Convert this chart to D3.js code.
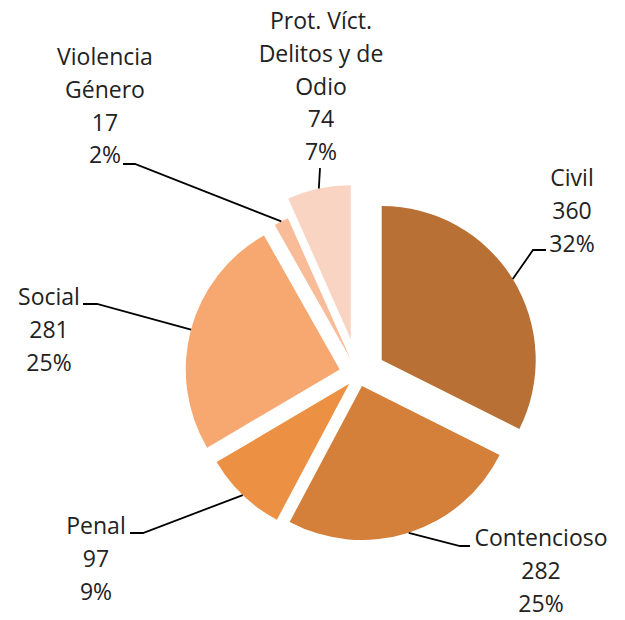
<!DOCTYPE html>
<html>
<head>
<meta charset="utf-8">
<script src="https://cdn.jsdelivr.net/npm/d3@7"></script>
<style>
  body { margin: 0; background: #fff; }
  text { font-family: "Open Sans", Lato, sans-serif; fill: #222; }
</style>
</head>
<body>
<div id="chart-area"></div>
<script>
// data
var categories = ["Civil", "Contencioso", "Penal", "Social", "Violencia\nGénero", "Prot. Víct.\nDelitos y de\nOdio"]
var values = [360, 282, 97, 281, 17, 74]
var colors = ["#b87035", "#d4803a", "#ec9144", "#f7a870", "#f8bc98", "#fad4c2"]

// how far each slice is pulled out of the pie (px)
var explode = [27.5, 12.2, 13.1, 19.2, 17.3, 36]

// where each label sits (centre of first line) and the bend of its leader line
var labelLayout = [
    {x: 572, y: 178, elbow: [533, 250], end: [546, 250]},
    {x: 541, y: 538, elbow: [460, 546], end: [470, 546]},
    {x: 96,  y: 526, elbow: [143, 533], end: [130, 533]},
    {x: 49,  y: 297, elbow: [97, 304],  end: [83, 304]},
    {x: 105, y: 57,  elbow: [135, 164], end: [123, 164]},
    {x: 321, y: 21,  elbow: [320, 168], end: [320, 168]}
]

var width = 625
var height = 620
var radius = 154
var cx = 358.3, cy = 374.4
var lineHeight = 32.8

var total = d3.sum(values)

var data = categories.map(function(name, i){
    return {name: name, value: values[i], color: colors[i], explode: explode[i], layout: labelLayout[i]}
})

var pie = d3.pie()
    .sort(null)
    .value(function(d){ return d.value })

var arc = d3.arc()
    .innerRadius(0)
    .outerRadius(radius)

var svg = d3.select("#chart-area")
    .append("svg")
    .attr("width", width)
    .attr("height", height)

var group = svg.append("g")
    .attr("transform", "translate(" + cx + "," + cy + ")")

var arcs = pie(data)

function offset(d){
    var mid = (d.startAngle + d.endAngle) / 2
    return [Math.sin(mid) * d.data.explode, -Math.cos(mid) * d.data.explode]
}

group.selectAll("path.slice")
    .data(arcs)
    .enter().append("path")
    .attr("class", "slice")
    .attr("transform", function(d){
        var o = offset(d)
        return "translate(" + o[0] + "," + o[1] + ")"
    })
    .attr("d", arc)
    .attr("fill", function(d){ return d.data.color })

// leader lines: from the middle of the outer arc to the label
svg.selectAll("path.leader")
    .data(arcs)
    .enter().append("path")
    .attr("class", "leader")
    .attr("fill", "none")
    .attr("stroke", "#000")
    .attr("stroke-width", 1.8)
    .attr("d", function(d){
        var mid = (d.startAngle + d.endAngle) / 2
        var o = offset(d)
        var sx = cx + o[0] + Math.sin(mid) * radius
        var sy = cy + o[1] - Math.cos(mid) * radius
        var l = d.data.layout
        return d3.line()([[sx, sy], l.elbow, l.end])
    })

var labels = svg.selectAll("text.label")
    .data(arcs)
    .enter().append("text")
    .attr("class", "label")
    .attr("text-anchor", "middle")
    .attr("font-size", 23)

labels.each(function(d){
    var lines = d.data.name.split("\n")
    lines.push(d.data.value)
    lines.push(Math.round(d.data.value / total * 100) + "%")
    var l = d.data.layout
    d3.select(this).selectAll("tspan")
        .data(lines)
        .enter().append("tspan")
        .attr("x", l.x)
        .attr("y", function(t, i){ return l.y + i * lineHeight })
        .attr("dy", "0.35em")
        .text(function(t){ return t })
})
</script>
</body>
</html>
